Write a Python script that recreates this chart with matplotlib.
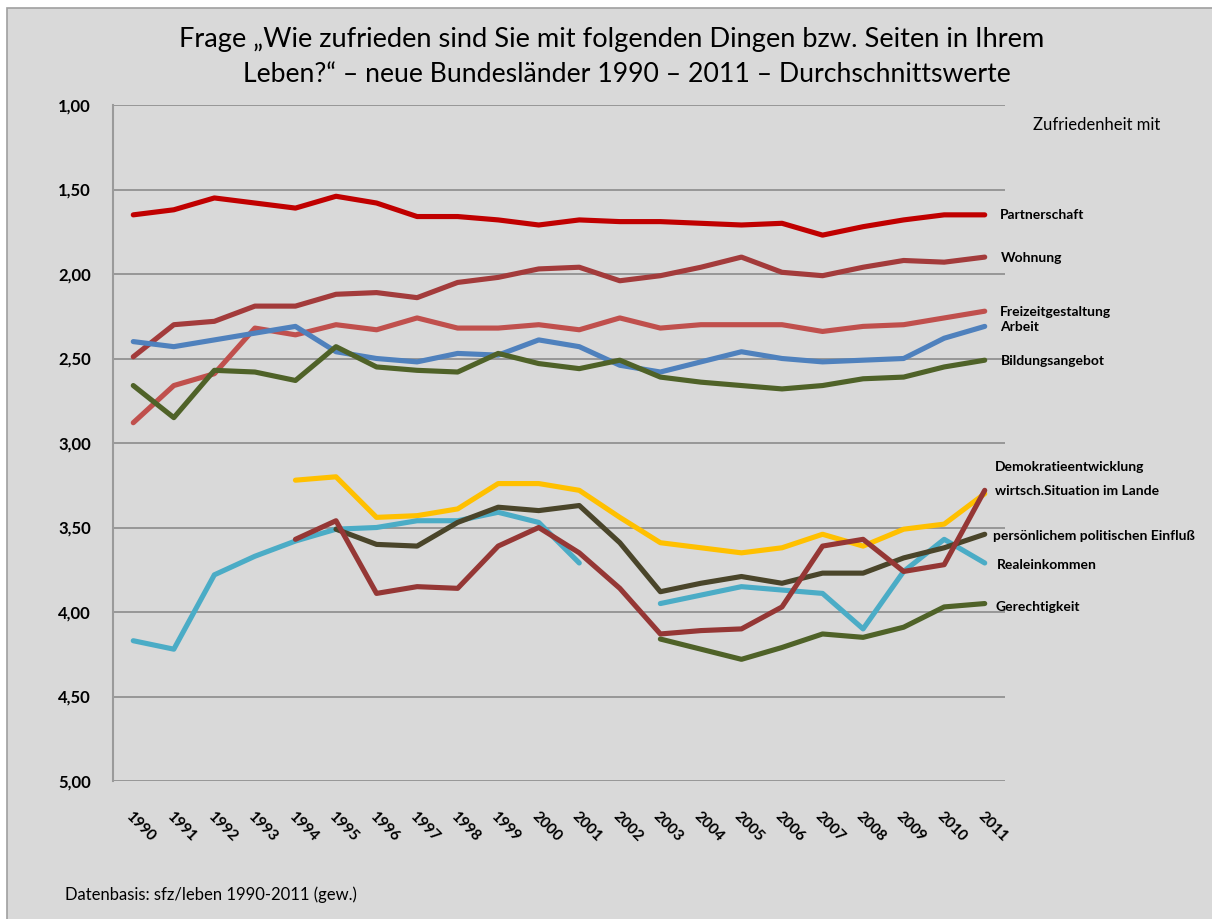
import matplotlib.pyplot as plt
import matplotlib.patches as mpatches
import numpy as np

nan = np.nan
years = [str(y) for y in range(1990, 2012)]
y_ticks = [1.0, 1.5, 2.0, 2.5, 3.0, 3.5, 4.0, 4.5, 5.0]
y_tick_labels = ['1,00', '1,50', '2,00', '2,50', '3,00', '3,50', '4,00', '4,50', '5,00']

partnerschaft = [1.65, 1.62, 1.55, 1.58, 1.61, 1.54, 1.58, 1.66, 1.66, 1.68, 1.71,
                 1.68, 1.69, 1.69, 1.70, 1.71, 1.70, 1.77, 1.72, 1.68, 1.65, 1.65]
wohnung = [2.49, 2.30, 2.28, 2.19, 2.19, 2.12, 2.11, 2.14, 2.05, 2.02, 1.97,
           1.96, 2.04, 2.01, 1.96, 1.90, 1.99, 2.01, 1.96, 1.92, 1.93, 1.90]
freizeit = [2.88, 2.66, 2.59, 2.32, 2.36, 2.30, 2.33, 2.26, 2.32, 2.32, 2.30,
            2.33, 2.26, 2.32, 2.30, 2.30, 2.30, 2.34, 2.31, 2.30, 2.26, 2.22]
arbeit = [2.40, 2.43, 2.39, 2.35, 2.31, 2.46, 2.50, 2.52, 2.47, 2.48, 2.39,
          2.43, 2.54, 2.58, 2.52, 2.46, 2.50, 2.52, 2.51, 2.50, 2.38, 2.31]
bildung = [2.66, 2.85, 2.57, 2.58, 2.63, 2.43, 2.55, 2.57, 2.58, 2.47, 2.53,
           2.56, 2.51, 2.61, 2.64, 2.66, 2.68, 2.66, 2.62, 2.61, 2.55, 2.51]
demokratie = [nan, nan, nan, nan, 3.22, 3.20, 3.44, 3.43, 3.39, 3.24, 3.24,
              3.28, 3.44, 3.59, 3.62, 3.65, 3.62, 3.54, 3.61, 3.51, 3.48, 3.30]
wirtschaft = [nan, nan, nan, nan, 3.57, 3.46, 3.89, 3.85, 3.86, 3.61, 3.50,
              3.65, 3.86, 4.13, 4.11, 4.10, 3.97, 3.61, 3.57, 3.76, 3.72, 3.28]
einfluss = [nan, nan, nan, nan, nan, 3.51, 3.60, 3.61, 3.47, 3.38, 3.40,
            3.37, 3.59, 3.88, 3.83, 3.79, 3.83, 3.77, 3.77, 3.68, 3.62, 3.54]
realeinkommen = [4.17, 4.22, 3.78, 3.67, 3.58, 3.51, 3.50, 3.46, 3.46, 3.41, 3.47,
                 3.71, nan, 3.95, 3.90, 3.85, 3.87, 3.89, 4.10, 3.76, 3.57, 3.71]
gerechtigkeit = [nan] * 13 + [4.16, 4.22, 4.28, 4.21, 4.13, 4.15, 4.09, 3.97, 3.95]

series = [
    (partnerschaft, '#C00000'),
    (wohnung, '#A33B3B'),
    (freizeit, '#C0504D'),
    (arbeit, '#4F81BD'),
    (bildung, '#4F6228'),
    (demokratie, '#FFC000'),
    (realeinkommen, '#4BACC6'),
    (einfluss, '#4A452A'),
    (wirtschaft, '#953735'),
    (gerechtigkeit, '#4F6228'),
]

# label text, pixel position (x, y) in the 1212x919 picture
labels = [
    ('Partnerschaft', 1000, 215),
    ('Wohnung', 1001, 258),
    ('Freizeitgestaltung', 1000, 312),
    ('Arbeit', 1000, 327),
    ('Bildungsangebot', 1001, 361),
    ('Demokratieentwicklung', 995, 467),
    ('wirtsch.Situation im Lande', 995, 491),
    ('persönlichem politischen Einfluß', 993, 536),
    ('Realeinkommen', 997, 565),
    ('Gerechtigkeit', 995, 607),
]

W, H = 1212, 919
plt.rcParams['font.family'] = ['Lato', 'DejaVu Sans']

fig = plt.figure(figsize=(W / 100, H / 100), dpi=100)
fig.patch.set_facecolor('white')
bg = mpatches.Rectangle((7 / W, -0.1), 1.2, 1 - 8 / H + 0.1, transform=fig.transFigure,
                        facecolor='#D9D9D9', edgecolor='#A0A0A0', linewidth=1.2, zorder=-5)
fig.patches.append(bg)

ax = fig.add_axes([113 / W, 1 - 781 / H, (1005 - 113) / W, (781 - 105) / H])
ax.set_facecolor('#D9D9D9')

x = np.arange(len(years))
for vals, col in series:
    ax.plot(x, vals, color=col, linewidth=3.7, solid_capstyle='round',
            solid_joinstyle='round', zorder=3)

ax.set_xlim(-0.5, len(years) - 0.5)
ax.set_ylim(5.0, 1.0)
ax.set_yticks(y_ticks)
ax.set_yticklabels(y_tick_labels, fontsize=12, fontweight='bold')
ax.set_xticks(x)
ax.set_xticklabels(years, rotation=-45, ha='left', va='top', fontsize=11,
                   fontweight='bold', rotation_mode='anchor')
ax.tick_params(axis='x', length=0, pad=20)
ax.tick_params(axis='y', length=0, pad=16)
ax.yaxis.grid(True, color='#8C8C8C', linewidth=1.2)
ax.set_axisbelow(True)
for s in ['top', 'right', 'bottom']:
    ax.spines[s].set_visible(False)
ax.spines['left'].set_color('#9A9A9A')
ax.spines['left'].set_linewidth(1.5)

fig.text(612 / W, 1 - 40 / H,
         'Frage „Wie zufrieden sind Sie mit folgenden Dingen bzw. Seiten in Ihrem',
         ha='center', va='center', fontsize=19.6)
fig.text(627 / W, 1 - 75 / H,
         'Leben?“ – neue Bundesländer 1990 – 2011 – Durchschnittswerte',
         ha='center', va='center', fontsize=19.2)

fig.text(1097 / W, 1 - 125 / H, 'Zufriedenheit mit', ha='center', va='center',
         fontsize=12)
for txt, px, py in labels:
    fig.text(px / W, 1 - py / H, txt, ha='left', va='center', fontsize=10,
             fontweight='bold')

fig.text(65 / W, 1 - 895 / H, 'Datenbasis: sfz/leben 1990-2011 (gew.)',
         ha='left', va='center', fontsize=12)

fig.savefig('out.png', dpi=100)
